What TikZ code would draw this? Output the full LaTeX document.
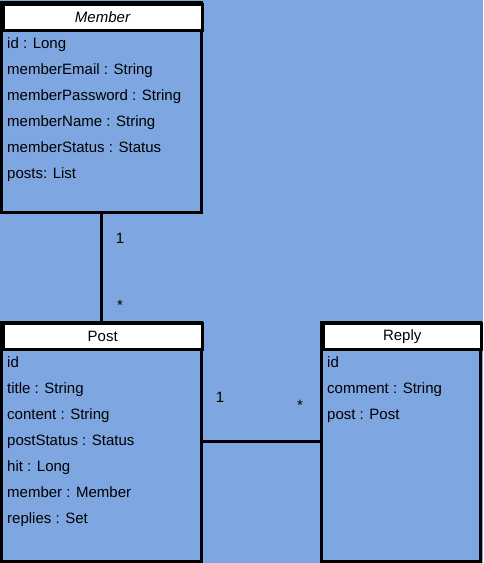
\documentclass[tikz,border=0pt]{standalone}
\usepackage{fontspec}
\setmainfont{Liberation Sans}
\definecolor{umlblue}{HTML}{7EA6E0}

\begin{document}
\begin{tikzpicture}[x=1pt, y=-1pt]
    \tikzstyle{box}=[draw=black, line width=3pt, fill=umlblue]
    \tikzstyle{head}=[draw=black, line width=3pt, fill=white, inner sep=0pt, font=\fontsize{15}{17}\selectfont]
    \tikzstyle{attr}=[anchor=west, inner sep=0pt, text height=11pt, text depth=3pt, font=\fontsize{15}{17}\selectfont, text=black]
    \tikzstyle{mult}=[inner sep=0pt, font=\fontsize{15}{17}\selectfont, text=black]
    \tikzstyle{edge}=[black, line width=3pt]

    \fill[umlblue] (0,0) rectangle (483,563);
    \useasboundingbox (0,0) rectangle (483,563);

    % Member
    \draw[box] (1.5,2.5) rectangle (201,212);
    \node[head, minimum width=199.5pt, minimum height=26pt, anchor=north west] (member) at (1.5,2.5) {\textit{Member}};
    \node[attr] (m1) at (7,44) {id : Long};
    \node[attr] (m2) at (7,70) {memberEmail : String};
    \node[attr] (m3) at (7,96) {memberPassword : String};
    \node[attr] (m4) at (7,122) {memberName : String};
    \node[attr] (m5) at (7,148) {memberStatus : Status};
    \node[attr] (m6) at (7,174) {posts: List};
    \coordinate (memberbot) at (101,212);

    % Post
    \draw[box] (1.5,322) rectangle (201,561);
    \node[head, minimum width=199.5pt, minimum height=26pt, anchor=north west] (post) at (1.5,322) {Post};
    \node[attr] (p1) at (7,363) {id};
    \node[attr] (p2) at (7,389) {title : String};
    \node[attr] (p3) at (7,415) {content : String};
    \node[attr] (p4) at (7,441) {postStatus : Status};
    \node[attr] (p5) at (7,467) {hit : Long};
    \node[attr] (p6) at (7,493) {member : Member};
    \node[attr] (p7) at (7,519) {replies : Set};
    \coordinate (posttop) at (101,322);
    \coordinate (postright) at (201,441);

    % Reply
    \draw[box] (321.5,322) rectangle (480,561);
    \node[head, minimum width=158.5pt, minimum height=26pt, anchor=north west] (reply) at (321.5,322) {Reply};
    \node[attr] (r1) at (327,363) {id};
    \node[attr] (r2) at (327,389) {comment : String};
    \node[attr] (r3) at (327,415) {post : Post};
    \coordinate (replyleft) at (321.5,441);

    \draw[edge] (memberbot) -- (posttop);
    \draw[edge] (postright) -- (replyleft);

    \node[mult] (n1) at (120,238) {1};
    \node[mult] (n2) at (120,305) {*};
    \node[mult] (n3) at (220,397) {1};
    \node[mult] (n4) at (300,405) {*};
\end{tikzpicture}
\end{document}
